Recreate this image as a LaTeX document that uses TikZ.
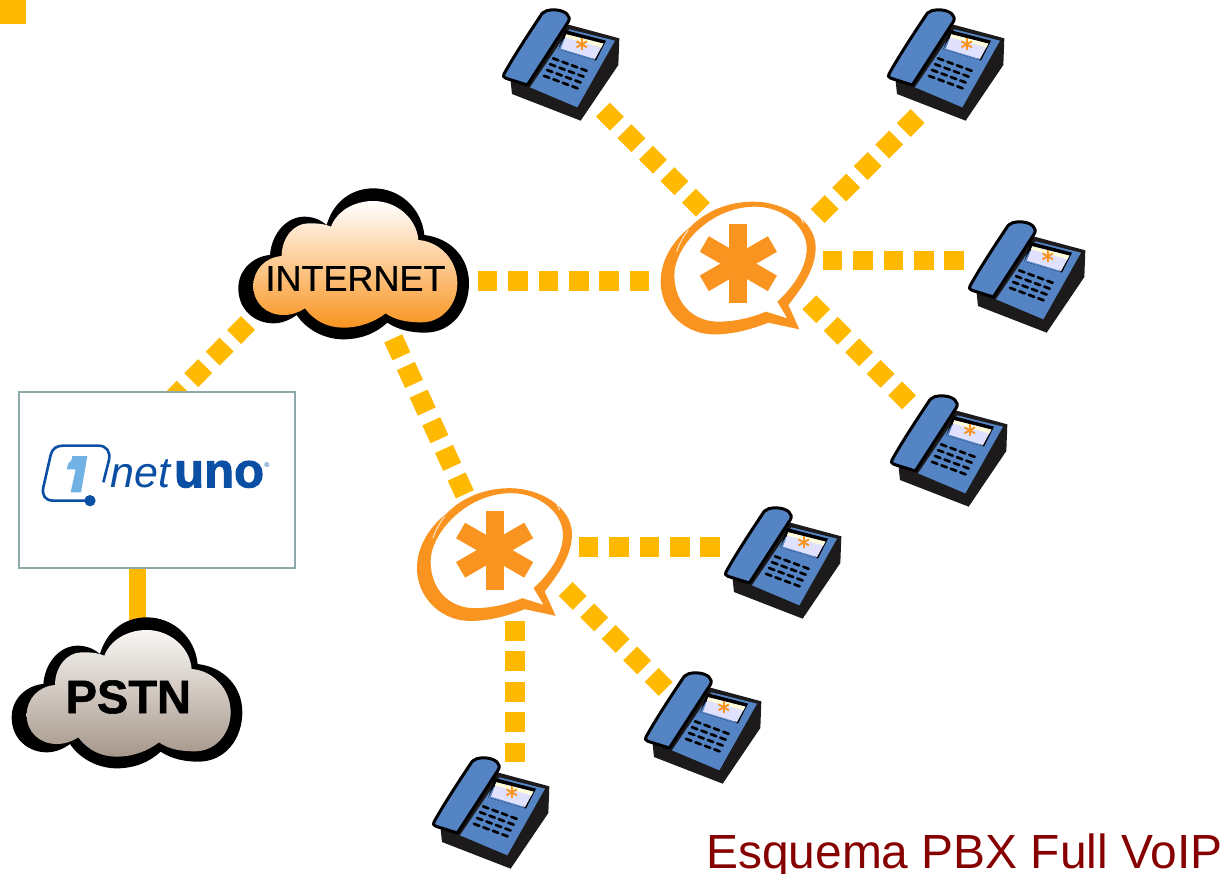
\documentclass[tikz,border=0pt]{standalone}
\usepackage{fontspec}
\setmainfont{Liberation Sans}
\newfontfamily\heavyfont[FakeBold=2]{Liberation Sans Bold}
\newfontfamily\pstnfont[FakeBold=1.2]{Liberation Sans Bold}
\newfontfamily\semifont[FakeBold=.6]{Liberation Sans}
\newfontfamily\netfont{Liberation Sans Italic}
\usetikzlibrary{calc}
\definecolor{linkyellow}{HTML}{FFB900}
\definecolor{astorange}{HTML}{F99420}
\definecolor{phoneblue}{HTML}{5584C4}
\definecolor{bodyblack}{HTML}{1C1A1A}
\definecolor{logoblue}{HTML}{0A4FA3}
\definecolor{logolight}{HTML}{70B2E4}
\definecolor{boxedge}{HTML}{8FA9AB}
\definecolor{caption}{HTML}{870000}
\definecolor{pstntop}{HTML}{F9F7F4}
\definecolor{pstnbottom}{HTML}{A6978A}
\tikzset{
  link/.style={draw=linkyellow,line width=19.7pt,dash pattern=on 19.7pt off 10.7pt},
  trunk/.style={draw=linkyellow,line width=16.5pt},
  anchornode/.style={inner sep=0pt,minimum size=0pt,outer sep=0pt},
  lab/.style={inner sep=0pt,outer sep=0pt,text=black},
}
\newcommand{\phoneicon}[3]{%
\begin{scope}[shift={(#2,#3)},x=.33333pt,y=-.33333pt]
  \fill[bodyblack] (228,72) -- (388,115) -- (385,195) -- (272,362) -- (66,282) -- (62,245) -- cycle;
  \fill[phoneblue] (238,88) -- (375,122) -- (262,322) -- (120,262) -- cycle;
  \fill[black] (225,90) -- (348,122) -- (318,182) -- (205,148) -- cycle;
  \fill[phoneblue] (205,148) -- (222,115) -- (318,182) -- cycle;
  \fill[black] (226,94) -- (346,124) -- (342,132) -- (224,102) -- cycle;
  \fill[white!88!blue] (229,103) -- (340,131) -- (315,177) -- (213,146) -- cycle;
  \fill[yellow!15!white] (229,103) -- (340,131) -- (334,142) -- (225,112) -- cycle;
  \foreach \a in {0,60,120}
    \draw[astorange,line width=1.9pt] ($(275,133)+(\a+90:18)$) -- ($(275,133)+(\a+270:18)$);
  \foreach \r in {0,1,2,3}
    \foreach \c in {0,1,2,3}
      \draw[black,line width=2.7pt,line cap=round]
        ($(197,178)+(\c*28.3,\c*10.5)+(-\r*9,\r*17.5)+(-8,-3)$) -- ++(16,6);
  \draw[black,line width=3pt,fill=phoneblue,line join=round]
    (42,222) .. controls (70,170) and (130,80) .. (150,50)
    .. controls (160,30) and (180,28) .. (200,30)
    .. controls (225,32) and (245,48) .. (235,65)
    -- (112,255) -- (48,235)
    .. controls (40,232) and (38,228) .. (42,222) -- cycle;
  \node[anchornode] (#1) at (215,190) {};
\end{scope}}
\newcommand{\bubbleicon}[3]{%
\begin{scope}[shift={(#2,#3)},x=.33333pt,y=-.33333pt]
  \fill[astorange,even odd rule]
    (340,35) .. controls (430,35) and (525,90) .. (527,170)
    .. controls (528,240) and (480,300) .. (445,345)
    -- (478,418) -- (385,398)
    .. controls (330,420) and (270,435) .. (215,433)
    .. controls (130,430) and (62,360) .. (62,275)
    .. controls (62,210) and (100,150) .. (150,112)
    .. controls (200,60) and (270,35) .. (340,35) -- cycle
    (345,50) .. controls (430,50) and (500,110) .. (500,175)
    .. controls (500,240) and (450,300) .. (412,335)
    -- (442,385) -- (378,365)
    .. controls (330,385) and (280,395) .. (235,395)
    .. controls (160,395) and (103,340) .. (103,255)
    .. controls (103,170) and (210,50) .. (345,50) -- cycle;
  \draw[white,line width=.7pt] (445,50) .. controls (470,62) and (483,80) .. (490,100);
  \draw[white,line width=.7pt] (110,185) .. controls (118,160) and (130,140) .. (145,120);
  \foreach \a in {0,60,120}
    \draw[astorange,line width=18pt] ($(295,221)+(\a+90:118)$) -- ($(295,221)+(\a+270:118)$);
  \node[anchornode] (#1) at (295,221) {};
\end{scope}}
\newcommand{\cloudicon}[5]{%
\begin{scope}[shift={(#2,#3)},x=.33333pt,y=-.33333pt]
  \fill[black]
    (135,225) .. controls (90,228) and (40,265) .. (40,325)
    .. controls (40,390) and (90,430) .. (145,430)
    .. controls (170,430) and (195,420) .. (215,405)
    .. controls (245,450) and (300,478) .. (355,478)
    .. controls (410,478) and (455,458) .. (487,428)
    .. controls (520,450) and (560,458) .. (600,458)
    .. controls (680,458) and (732,390) .. (732,310)
    .. controls (732,235) and (680,175) .. (598,165)
    .. controls (590,85) and (525,25) .. (445,25)
    .. controls (380,25) and (325,65) .. (305,135)
    .. controls (285,118) and (262,110) .. (238,110)
    .. controls (185,110) and (140,160) .. (135,225) -- cycle;
  \shade[top color=#4,bottom color=#5]
    (170,228) .. controls (120,232) and (85,270) .. (85,318)
    .. controls (85,370) and (125,405) .. (175,405)
    .. controls (200,405) and (222,397) .. (240,385)
    .. controls (270,425) and (310,443) .. (355,443)
    .. controls (405,443) and (450,425) .. (482,400)
    .. controls (510,420) and (545,427) .. (590,427)
    .. controls (650,427) and (697,375) .. (697,310)
    .. controls (697,240) and (645,185) .. (580,180)
    .. controls (575,115) and (515,63) .. (445,63)
    .. controls (385,63) and (335,95) .. (318,140)
    .. controls (295,130) and (270,130) .. (250,130)
    .. controls (205,130) and (170,175) .. (170,228) -- cycle;
\end{scope}}
\begin{document}
\begin{tikzpicture}[x=1pt,y=-1pt]
\useasboundingbox (0,0) rectangle (1226,873);
\clip (0,0) rectangle (1226,873);
% corner mark
\fill[linkyellow] (0,0) rectangle (26,24);
% connector ends
\coordinate (inetE) at (477.7,281);   \coordinate (bub1W) at (649.3,281);
\coordinate (bub1E) at (822.7,260.5); \coordinate (ph3W) at (963.7,260.5);
\coordinate (bub1NE) at (817.7,216);  \coordinate (ph2S) at (917.7,116);
\coordinate (bub1SE) at (809.3,302.3);\coordinate (ph4N) at (909,402.3);
\coordinate (ph1S) at (603,109.7);    \coordinate (bub1NW) at (703,209.7);
\coordinate (inetSW) at (248,323);    \coordinate (boxN) at (169.5,402);
\coordinate (inetS) at (393.2,338.4); \coordinate (bub2N) at (464.8,494.3);
\coordinate (bub2E) at (578.7,547.3); \coordinate (ph5W) at (720,547.3);
\coordinate (bub2SE) at (565.7,589);  \coordinate (ph6N) at (665.7,689);
\coordinate (bub2S) at (515,621);     \coordinate (ph7N) at (515,762);
\coordinate (boxS) at (137.3,566);    \coordinate (pstnN) at (137.3,630);
% connectors
\draw[link] (inetE) -- (bub1W);
\draw[link] (bub1E) -- (ph3W);
\draw[link] (bub1NE) -- (ph2S);
\draw[link] (bub1SE) -- (ph4N);
\draw[link] (ph1S) -- (bub1NW);
\draw[link] (inetSW) -- (boxN);
\draw[link] (inetS) -- (bub2N);
\draw[link] (bub2E) -- (ph5W);
\draw[link] (bub2SE) -- (ph6N);
\draw[link] (bub2S) -- (ph7N);
\draw[trunk] (boxS) -- (pstnN);
% netuno box
\node[draw=boxedge,fill=white,line width=2pt,outer sep=0pt,minimum width=275.9pt,minimum height=176pt,inner sep=0pt,anchor=north west] (netbox) at (19.1,391.6) {};
\begin{scope}[shift={(0,380)},x=.33333pt,y=-.33333pt]
  \draw[logoblue,line width=2.6pt] (270,362) -- (160,362)
    .. controls (135,362) and (125,345) .. (130,322) -- (152,225)
    .. controls (157,205) and (170,197) .. (190,197) -- (295,197)
    .. controls (320,197) and (332,215) .. (327,240) -- (310,307);
  \fill[logoblue] (270,362) circle[radius=17];
  \fill[logolight] (217,228) -- (262,228) -- (243,337) -- (212,337) -- (227,268) -- (200,268) -- (205,250) .. controls (212,248) and (216,240) .. (217,228) -- cycle;
\end{scope}
\node[anchor=base west,inner sep=0pt,text=logoblue,font=\netfont\fontsize{43}{46}\selectfont] (logonet) at (110,487.3) {net};
\node[anchor=base west,inner sep=0pt,text=logoblue,font=\heavyfont\fontsize{49}{52}\selectfont] (logouno) at (174,487.3) {uno};
\node[anchor=center,inner sep=0pt,text=logoblue,font=\fontsize{7}{8}\selectfont] (logoreg) at (267,465) {®};
% clouds
\cloudicon{inet}{225}{180}{white}{astorange}
\node[lab,font=\semifont\fontsize{36}{40}\selectfont] (internet) at (355.5,278.5) {INTERNET};
\cloudicon{pstncloud}{-1.67}{609}{pstntop}{pstnbottom}
\node[lab,font=\pstnfont\fontsize{47}{50}\selectfont] (pstn) at (128.3,697) {PSTN};
% asterisk bubbles
\bubbleicon{bub1}{640}{190}
\bubbleicon{bub2}{396.3}{476.5}
% phones
\phoneicon{ph1}{490}{0}
\phoneicon{ph2}{875}{0}
\phoneicon{ph3}{956}{212}
\phoneicon{ph4}{878}{386}
\phoneicon{ph5}{712}{498}
\phoneicon{ph6}{632}{663}
\phoneicon{ph7}{420}{748}
% caption
\node[anchor=base west,inner sep=0pt,text=caption,font=\fontsize{47.9}{50}\selectfont] (title) at (706,868.5) {Esquema PBX Full VoIP};
\end{tikzpicture}
\end{document}
